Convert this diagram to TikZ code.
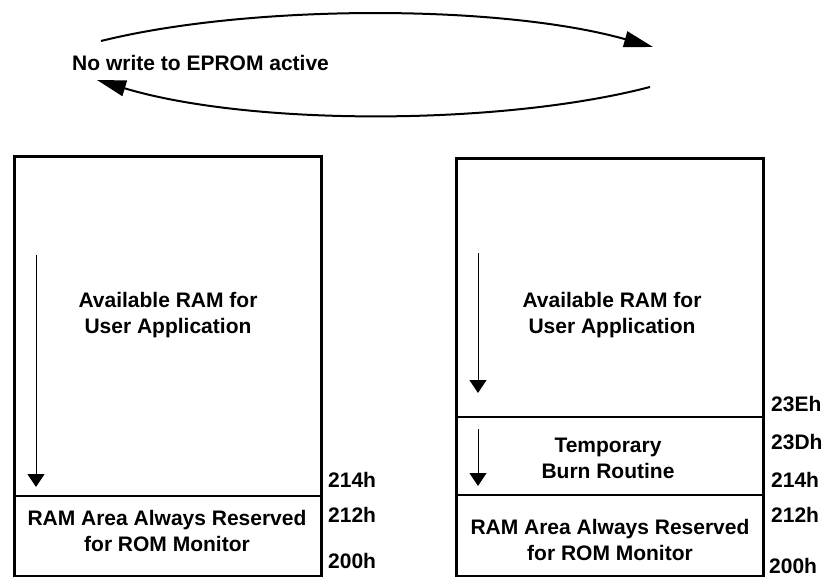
\documentclass[tikz,border=0pt]{standalone}
\usepackage{fontspec}
\setmainfont{Liberation Sans}
\usetikzlibrary{arrows.meta}
\begin{document}
\begin{tikzpicture}[x=1pt,y=-1pt,
  txt/.style={font=\fontsize{21}{26}\selectfont\bfseries, inner sep=0pt, anchor=base},
  lbl/.style={txt, anchor=base west},
  membox/.style={draw, line width=2.8pt, inner sep=0pt, anchor=north west},
  divider/.style={line width=2pt},
  growarrow/.style={line width=1pt, -{Triangle[length=13pt,width=17pt]}},
  cyc/.style={line width=2pt, -{Triangle[length=29pt,width=16pt]}}]
\useasboundingbox (0,0) rectangle (822,577);

% cycle arrows
\coordinate (c1s) at (101,41);
\coordinate (c1e) at (653,47);
\coordinate (c2s) at (650,87);
\coordinate (c2e) at (97,80);
\draw[cyc] (c1s) .. controls (250,4) and (500,4) .. (c1e);
\draw[cyc] (c2s) .. controls (500,126) and (250,126) .. (c2e);
\node[lbl] (state) at (72,71) {No write to EPROM active};

% left memory map
\node[membox, minimum width=307pt, minimum height=420pt] (lbox) at (13,155) {};
\coordinate (ldl) at (13,496);
\coordinate (ldr) at (320,496);
\draw[divider] (ldl) -- (ldr);
\node[txt] (lavail1) at (168,308) {Available RAM for};
\node[txt] (lavail2) at (168,334) {User Application};
\node[txt] (lres1) at (167,525) {RAM Area Always Reserved};
\node[txt] (lres2) at (167,551) {for ROM Monitor};
\coordinate (lats) at (36,255);
\coordinate (late) at (36,487);
\draw[growarrow] (lats) -- (late);
\node[lbl] (l214) at (328,487) {214h};
\node[lbl] (l212) at (328,522) {212h};
\node[lbl] (l200) at (328,568) {200h};

% right memory map
\node[membox, minimum width=307pt, minimum height=418pt] (rbox) at (455,157) {};
\coordinate (rd1l) at (455,417);
\coordinate (rd1r) at (762,417);
\coordinate (rd2l) at (455,495);
\coordinate (rd2r) at (762,495);
\draw[divider] (rd1l) -- (rd1r);
\draw[divider] (rd2l) -- (rd2r);
\node[txt] (ravail1) at (612,308) {Available RAM for};
\node[txt] (ravail2) at (612,334) {User Application};
\node[txt] (rburn1) at (608,452) {Temporary};
\node[txt] (rburn2) at (608,478) {Burn Routine};
\node[txt] (rres1) at (610,534) {RAM Area Always Reserved};
\node[txt] (rres2) at (610,560) {for ROM Monitor};
\coordinate (ra1s) at (478,253);
\coordinate (ra1e) at (478,393);
\coordinate (ra2s) at (478,429);
\coordinate (ra2e) at (478,486);
\draw[growarrow] (ra1s) -- (ra1e);
\draw[growarrow] (ra2s) -- (ra2e);
\node[lbl] (r23E) at (771,411) {23Eh};
\node[lbl] (r23D) at (771,449) {23Dh};
\node[lbl] (r214) at (771,487) {214h};
\node[lbl] (r212) at (771,522) {212h};
\node[lbl] (r200) at (769,573) {200h};
\end{tikzpicture}
\end{document}
